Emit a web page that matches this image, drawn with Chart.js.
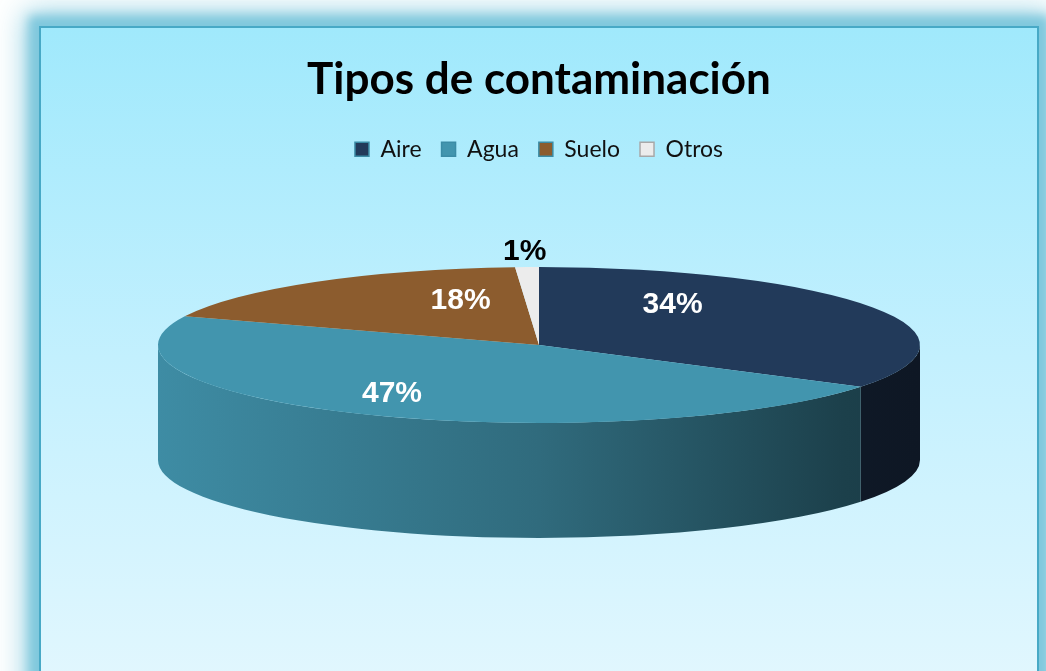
<!DOCTYPE html>
<html>
<head>
<meta charset="utf-8">
<title>Tipos de contaminación</title>
<script src="https://cdn.jsdelivr.net/npm/chart.js@4.4.1/dist/chart.umd.min.js"></script>
<style>
  html, body { margin: 0; padding: 0; background: #ffffff; width: 1046px; height: 671px; overflow: hidden; }
  #frame {
    position: absolute; left: 39px; top: 26px; width: 996px; height: 660px;
    border: 2px solid #47a9c6;
    background: linear-gradient(to bottom, #a0e9fc 0%, #c3f0fe 50%, #e2f7fe 100%);
    box-shadow: 0 0 10px 10px #7fc8dd, 0 0 28px 14px rgba(127, 200, 221, 0.8);
  }
  #frame canvas { display: block; }
</style>
</head>
<body>
<div id="frame"><canvas id="pieChart" width="996" height="660"></canvas></div>
<script>
// Chart data
const categories = ['Aire', 'Agua', 'Suelo', 'Otros'];
const shares = [34, 47, 18, 1];
const sliceColors = ['#223a5a', '#4295ae', '#8c5c2e', '#ececec'];

// Fake 3D look: ellipse size, depth and center of the top face (canvas px)
const PIE_RX = 381;
const PIE_RY = 78;
const PIE_DEPTH = 115;
const PIE_CY = 317;

// where each percentage sits (fraction of radius, extra lift)
const labelSpots = [
    { f: 0.40, dy: -25, color: '#ffffff' },
    { f: 0.85, dy: -10, color: '#ffffff' },
    { f: 0.35, dy: -22, color: '#ffffff' },
    { f: 1.20, dy: 0, color: '#000000' }
];

function shade(hex, k) {
    const n = parseInt(hex.slice(1), 16);
    const r = Math.round(((n >> 16) & 255) * k);
    const g = Math.round(((n >> 8) & 255) * k);
    const b = Math.round((n & 255) * k);
    return `rgb(${r}, ${g}, ${b})`;
}

// Draws the side wall, then squashes the library's arcs into an ellipse
const pie3d = {
    id: 'pie3d',
    beforeDatasetsDraw(chart) {
        const ctx = chart.ctx;
        const meta = chart.getDatasetMeta(0);
        meta.data.forEach((arc, i) => {
            const cx = arc.x;
            const lo = Math.max(arc.startAngle, 0);
            const hi = Math.min(arc.endAngle, Math.PI);
            if (hi <= lo) return;

            const base = sliceColors[i];
            const grad = ctx.createLinearGradient(cx - PIE_RX, 0, cx + PIE_RX, 0);
            grad.addColorStop(0, shade(base, 0.94));
            grad.addColorStop(0.5, shade(base, 0.72));
            grad.addColorStop(0.9, shade(base, 0.43));
            grad.addColorStop(1, shade(base, 0.40));

            ctx.save();
            ctx.beginPath();
            ctx.ellipse(cx, PIE_CY, PIE_RX, PIE_RY, 0, lo, hi, false);
            ctx.ellipse(cx, PIE_CY + PIE_DEPTH, PIE_RX, PIE_RY, 0, hi, lo, true);
            ctx.closePath();
            ctx.fillStyle = grad;
            ctx.fill();
            ctx.restore();
        });

        const first = meta.data[0];
        const sx = PIE_RX / first.outerRadius;
        const sy = PIE_RY / first.outerRadius;
        ctx.save();
        ctx.translate(first.x, PIE_CY);
        ctx.scale(sx, sy);
        ctx.translate(-first.x, -first.y);
    },
    afterDatasetsDraw(chart) {
        const ctx = chart.ctx;
        ctx.restore();

        const meta = chart.getDatasetMeta(0);
        ctx.save();
        ctx.font = 'bold 30px "Liberation Sans", Arial, sans-serif';
        ctx.textAlign = 'center';
        ctx.textBaseline = 'middle';
        meta.data.forEach((arc, i) => {
            const mid = (arc.startAngle + arc.endAngle) / 2;
            const spot = labelSpots[i];
            const x = arc.x + Math.cos(mid) * PIE_RX * spot.f;
            const y = PIE_CY + Math.sin(mid) * PIE_RY * spot.f + spot.dy;
            ctx.fillStyle = spot.color;
            ctx.fillText(shares[i] + '%', x, y);
        });
        ctx.restore();
    }
};

function buildLegendLabels(chart) {
    const items = Chart.overrides.doughnut.plugins.legend.labels.generateLabels(chart);
    items.forEach((item, i) => {
        item.strokeStyle = i === 3 ? '#a8a8a8' : '#3b8ca6';
        item.lineWidth = 1.5;
        item.fontColor = '#111111';
    });
    return items;
}

const ctx = document.getElementById('pieChart').getContext('2d');
const pieChart = new Chart(ctx, {
    type: 'pie',
    data: {
        labels: categories,
        datasets: [{
            data: shares,
            backgroundColor: sliceColors,
            borderWidth: 0
        }]
    },
    options: {
        responsive: false,
        animation: false,
        devicePixelRatio: 1,
        layout: { padding: { bottom: 120 } },
        plugins: {
            title: {
                display: true,
                text: 'Tipos de contaminación',
                color: '#000000',
                font: { family: 'Lato', size: 44, weight: 'bold' },
                padding: { top: 25, bottom: 12 }
            },
            legend: {
                position: 'top',
                labels: {
                    boxWidth: 14,
                    boxHeight: 14,
                    padding: 20,
                    color: '#111111',
                    font: { family: 'Lato', size: 23 },
                    generateLabels: buildLegendLabels
                }
            },
            tooltip: { enabled: false }
        },
        events: []
    },
    plugins: [pie3d]
});
</script>
</body>
</html>
